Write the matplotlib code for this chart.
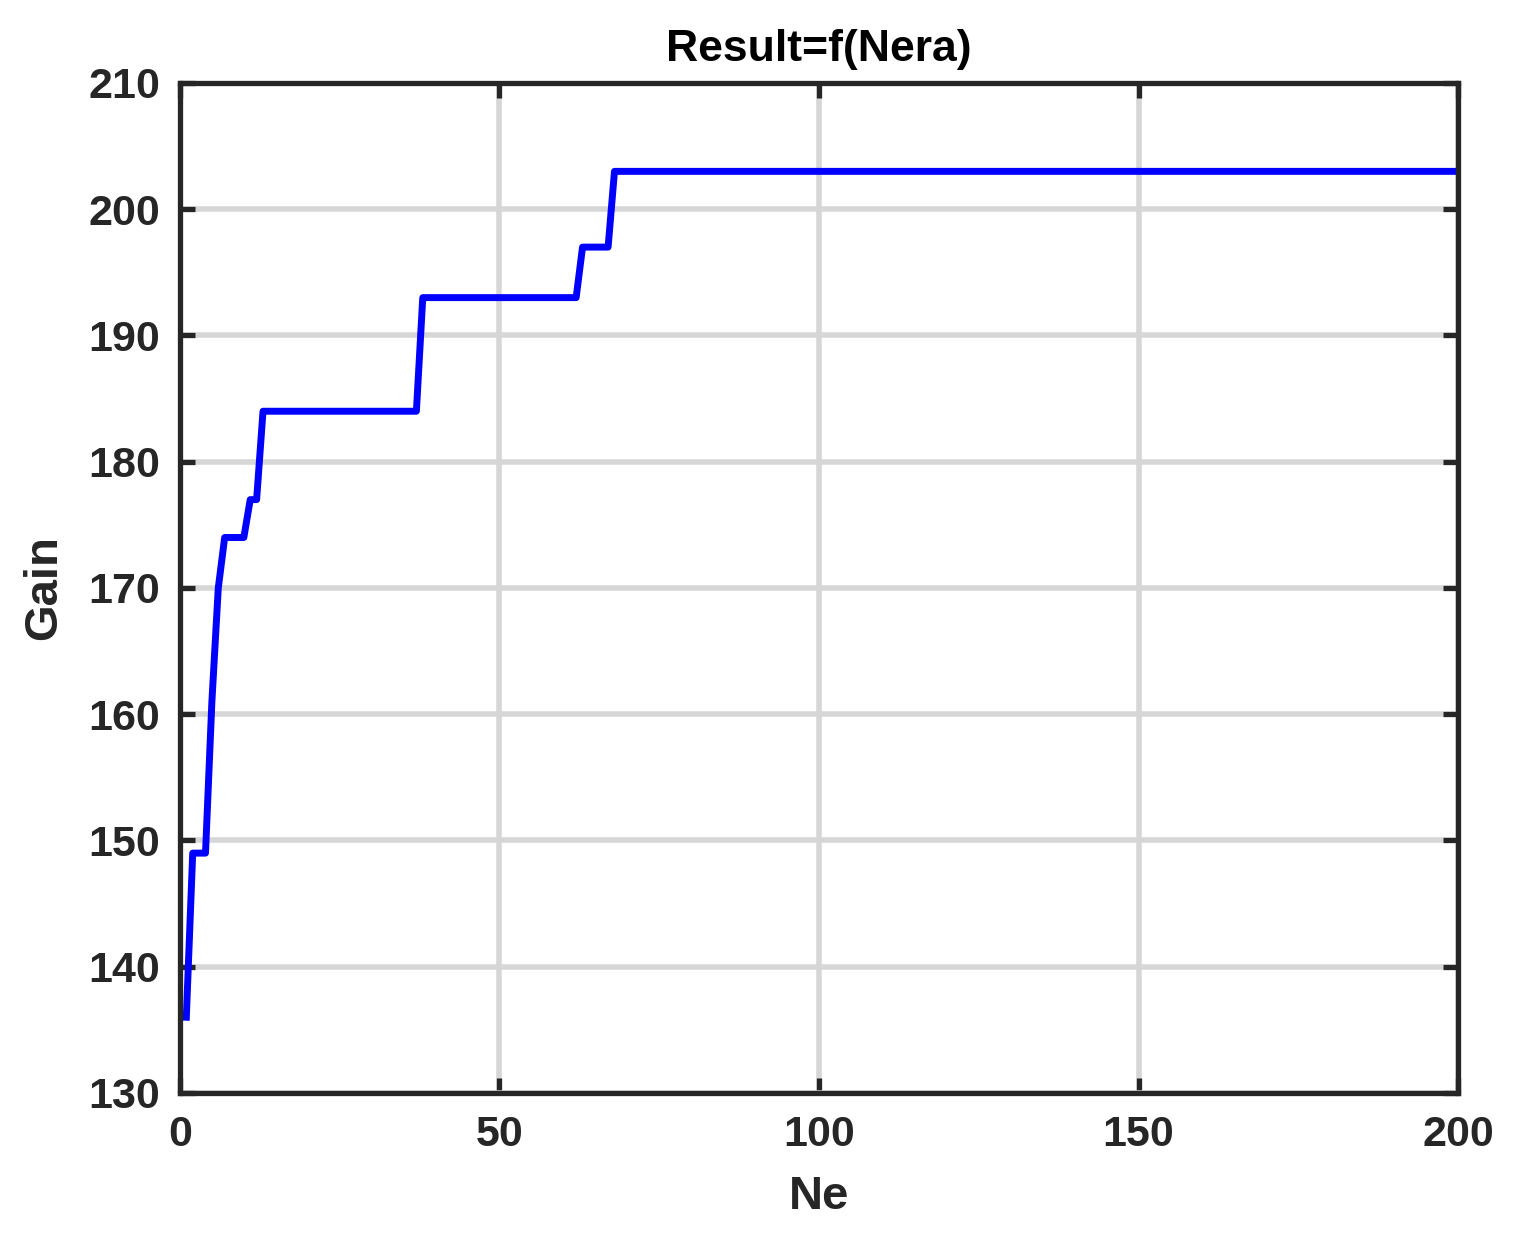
import matplotlib.pyplot as plt
import numpy as np

# ==== data: vertices of the best-gain curve ====
ne = [1, 2, 4, 5, 6, 7, 10, 11, 12, 13, 37, 38, 62, 63, 67, 68, 200]
gain = [136, 149, 149, 161, 170, 174, 174, 177, 177, 184, 184, 193, 193, 197, 197, 203, 203]

x_ticks = [0, 50, 100, 150, 200]
y_ticks = [130, 140, 150, 160, 170, 180, 190, 200, 210]

plt.rcParams['font.family'] = ['Liberation Sans', 'DejaVu Sans']
plt.rcParams['font.weight'] = 'bold'

fig = plt.figure(figsize=(15.21, 12.48), dpi=100)
ax = fig.add_axes([0.1183, 0.1242, 0.8403, 0.8093])

ax.plot(ne, gain, color='#0000ff', linewidth=5)

ax.set_xlim(0, 200)
ax.set_ylim(130, 210)
ax.set_xticks(x_ticks)
ax.set_yticks(y_ticks)
ax.grid(True, color='#d6d6d6', linewidth=4)
ax.set_axisbelow(True)

ax.tick_params(direction='in', length=11, width=3.8, top=True, right=True,
               labelsize=31, colors='#262626')
ax.tick_params(axis='x', pad=16)
ax.tick_params(axis='y', pad=14)
for sp in ax.spines.values():
    sp.set_linewidth(3.8)
    sp.set_color('#262626')

ax.set_xlabel('Ne', fontsize=34, fontweight='bold', color='#262626', labelpad=14)
ax.set_ylabel('Gain', fontsize=34, fontweight='bold', color='#262626', labelpad=16)
ax.set_title('Result=f(Nera)', fontsize=32, fontweight='bold', color='#000000', pad=16)

fig.savefig('out.png', dpi=100)
